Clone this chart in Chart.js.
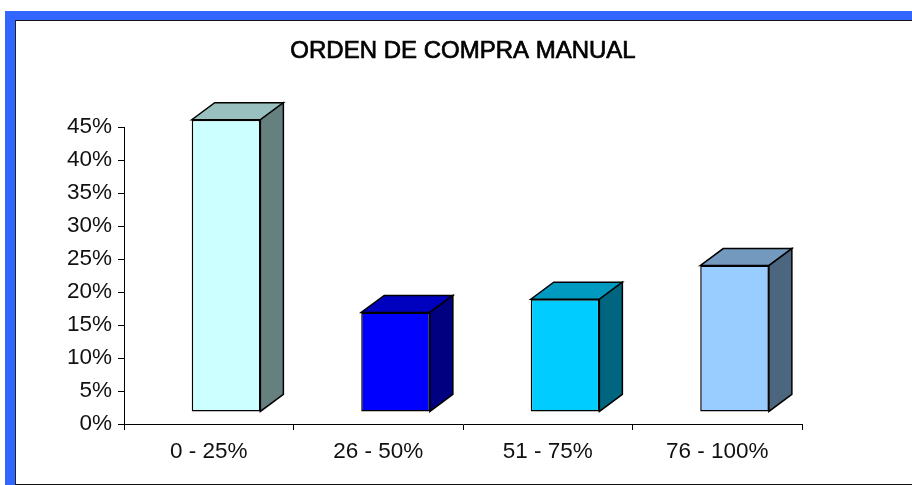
<!DOCTYPE html>
<html><head><meta charset="utf-8">
<script src="https://cdn.jsdelivr.net/npm/chart.js@4"></script>
<style>
html,body{margin:0;padding:0;background:#fff;overflow:hidden}
#wrap{position:absolute;left:0;top:0;width:912px;height:485px}
#frame{position:absolute;left:5px;top:11px;width:907px;height:474px;box-sizing:border-box;border-left:10px solid #3366FF;border-top:9px solid #3366FF;pointer-events:none}
#inner{position:absolute;left:0;top:0;right:0;bottom:0;border-top:1px solid #111;border-left:1px solid #222;border-bottom:1px solid #111}
canvas{position:absolute;left:0;top:0}
</style></head><body>
<div id="wrap"><canvas id="c" width="912" height="485"></canvas><div id="frame"><div id="inner"></div></div></div>
<script>
const categories = ['0 - 25%','26 - 50%','51 - 75%','76 - 100%'];
const values = [44.2, 15, 17, 22.1];
const floorLift = 1.9;
const frontColors = ['#CCFFFF','#0000FF','#00CCFF','#99CCFF'];
const topColors = ['#99BFBF','#0000BF','#0099BF','#7399BF'];
const sideColors = ['#668080','#000080','#006680','#4D6680'];
const titleText = 'ORDEN DE COMPRA MANUAL';
const yTicks = [0,5,10,15,20,25,30,35,40,45];

const DX = 23, DY = 17, SHIFT = 17.3;
const FONT = '"Liberation Sans",Arial,sans-serif';
const TITLE_TOP = 37;
const faces = {
  id:'faces',
  beforeDatasetDraw(chart,args){
    const ctx = chart.ctx;
    ctx.save();
    ctx.translate(SHIFT,0);
    ctx.lineWidth = 1.5; ctx.strokeStyle = '#000'; ctx.lineJoin='miter';
    chart.getDatasetMeta(args.index).data.forEach((b,i)=>{
      const l=b.x-b.width/2, r=b.x+b.width/2, t=b.y, bot=b.base;
      ctx.fillStyle = topColors[i];
      ctx.beginPath();ctx.moveTo(l,t);ctx.lineTo(l+DX,t-DY);ctx.lineTo(r+DX,t-DY);ctx.lineTo(r,t);ctx.closePath();ctx.fill();ctx.stroke();
      ctx.fillStyle = sideColors[i];
      ctx.beginPath();ctx.moveTo(r,t);ctx.lineTo(r+DX,t-DY);ctx.lineTo(r+DX,bot-DY);ctx.lineTo(r,bot);ctx.closePath();ctx.fill();ctx.stroke();
    });
  },
  afterDatasetDraw(chart){ chart.ctx.restore(); },
  afterDraw(chart){
    // the reference title is double-struck: thicken the library's title in place
    const ctx = chart.ctx, tb = chart.titleBlock;
    ctx.save();
    ctx.font = '24px '+FONT;
    ctx.textAlign='center'; ctx.textBaseline='middle';
    ctx.strokeStyle='#000'; ctx.lineWidth=0.7;
    ctx.strokeText(titleText,(tb.left+tb.right)/2,tb.top+TITLE_TOP+14.4);
    ctx.restore();
  }
};
new Chart(document.getElementById('c'),{
  type:'bar',
  plugins:[faces],
  data:{labels:categories,datasets:[{
    data:values.map(v=>[floorLift,v+floorLift]),
    backgroundColor:frontColors,borderColor:'#000',borderWidth:1.5,borderSkipped:false,
    barPercentage:1,categoryPercentage:0.405,clip:false
  }]},
  options:{
    responsive:false,animation:false,
    layout:{padding:{right:110,left:0,top:0,bottom:0}},
    plugins:{legend:{display:false},tooltip:{enabled:false},
      title:{display:true,text:titleText,color:'#000',fullSize:false,
        font:{family:FONT,size:24,weight:'normal',lineHeight:1.2},
        padding:{top:TITLE_TOP,bottom:61.2}}},
    scales:{
      x:{offset:true,
        afterFit(s){s.height=61;},
        grid:{drawOnChartArea:false,drawTicks:true,tickLength:6,color:'#000',offset:true},
        border:{color:'#000',width:1},
        ticks:{color:'#111',padding:8,maxRotation:0,font:{family:FONT,size:22.5}}},
      y:{min:0,max:45,
        afterBuildTicks(s){s.ticks=yTicks.map(v=>({value:v}));},
        afterFit(s){s.width=124;},
        grid:{drawOnChartArea:false,drawTicks:true,tickLength:6,color:'#000'},
        border:{color:'#000',width:1},
        ticks:{color:'#111',padding:6,callback:v=>v+'%',font:{family:FONT,size:22.5}}}
    }
  }
});
</script></body></html>
